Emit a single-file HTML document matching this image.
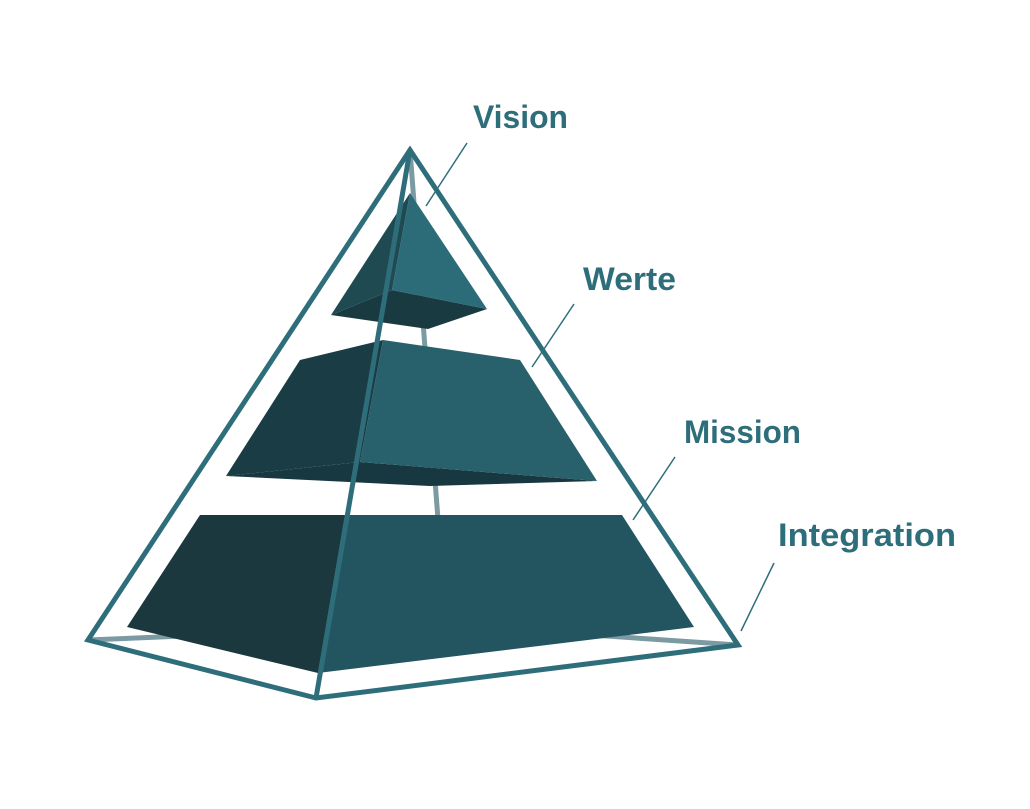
<!DOCTYPE html>
<html><head><meta charset="utf-8"><style>
html,body{margin:0;padding:0;background:#fff;}
svg{display:block}
text{font-family:"Liberation Sans",sans-serif;font-weight:bold;fill:#2e6e7b;font-size:32px}
</style></head><body>
<svg width="1030" height="809" viewBox="0 0 1030 809">
<!-- back edges -->
<g stroke="#7b9aa2" stroke-width="5" fill="none">
<line x1="410" y1="150" x2="446" y2="625"/>
<line x1="88" y1="640" x2="446" y2="625"/>
<line x1="738" y1="645" x2="446" y2="625"/>
</g>
<!-- bottom layer -->
<polygon points="200,515 345,515 318,673 127,627" fill="#1a383e"/>
<polygon points="345,515 622,515 694,627 318,673" fill="#235560"/>
<!-- middle layer -->
<polygon points="226,476 360,462 597,481 430,486" fill="#173840"/>
<polygon points="300,360 383,340 360,462 226,476" fill="#1a3c44"/>
<polygon points="383,340 520,360 597,481 360,462" fill="#28606b"/>
<!-- top -->
<polygon points="331,315 392,290 487,309 428,329" fill="#1a3a42"/>
<polygon points="410,193 331,315 392,290" fill="#1f4a52"/>
<polygon points="410,193 392,290 487,309" fill="#2c6b78"/>
<!-- outline -->
<g stroke="#2e6e7b" stroke-width="5" fill="none" stroke-linejoin="miter">
<polygon points="410,150 88,640 316,698 738,645"/>
<line x1="410" y1="150" x2="316" y2="698"/>
</g>
<!-- leaders -->
<g stroke="#2e6e7b" stroke-width="1.5">
<line x1="467" y1="143" x2="426" y2="206"/>
<line x1="574" y1="304" x2="532" y2="367"/>
<line x1="675" y1="457" x2="633" y2="520"/>
<line x1="774" y1="563" x2="741" y2="631"/>
</g>
<text x="473" y="128" textLength="95" lengthAdjust="spacingAndGlyphs">Vision</text>
<text x="583" y="290" textLength="93" lengthAdjust="spacingAndGlyphs">Werte</text>
<text x="684" y="443" textLength="117" lengthAdjust="spacingAndGlyphs">Mission</text>
<text x="778" y="546" textLength="178" lengthAdjust="spacingAndGlyphs">Integration</text>
</svg>
</body></html>
